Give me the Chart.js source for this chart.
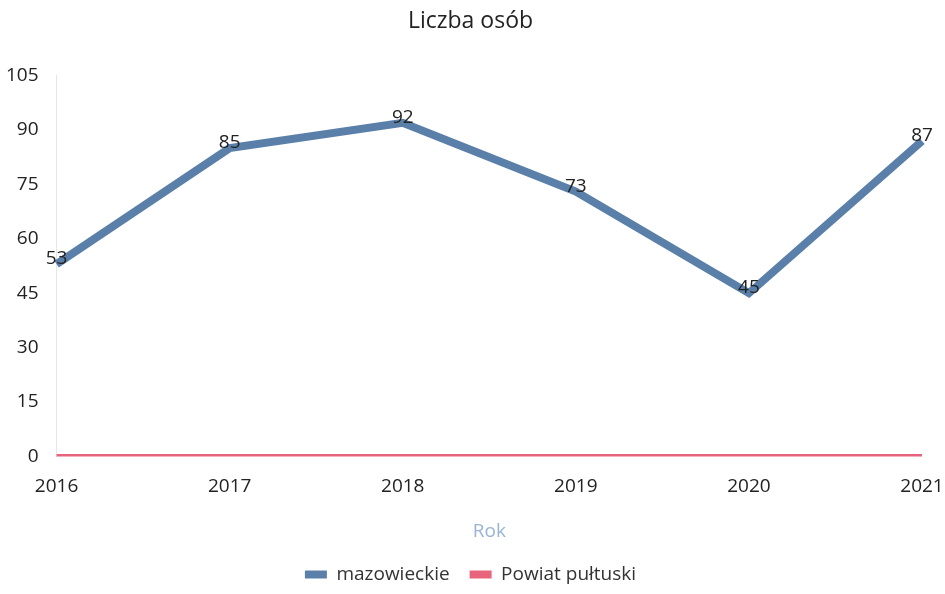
<!DOCTYPE html>
<html>
<head>
<meta charset="utf-8">
<script src="https://cdn.jsdelivr.net/npm/chart.js@4/dist/chart.umd.min.js"></script>
<style>
html,body{margin:0;padding:0;background:#fff;}
#wrap{width:945px;height:594px;position:relative;}
</style>
</head>
<body>
<div id="wrap"><canvas id="c"></canvas></div>
<script>
const years = ['2016','2017','2018','2019','2020','2021'];
const mazowieckie = [53, 85, 92, 73, 45, 87];
const powiatPultuski = [0, 0, 0, 0, 0, 0];
const seriesNames = ['mazowieckie', 'Powiat pułtuski'];

const FONT = "'Open Sans', 'DejaVu Sans', sans-serif";

const labelPlugin = {
  id: 'pointLabels',
  afterDatasetsDraw(chart) {
    const ctx = chart.ctx;
    const meta = chart.getDatasetMeta(0);
    const ds = chart.data.datasets[0];
    ctx.save();
    ctx.font = '19px ' + FONT;
    ctx.fillStyle = '#222';
    ctx.textAlign = 'center';
    ctx.textBaseline = 'bottom';
    meta.data.forEach((pt, i) => {
      ctx.fillText(String(ds.data[i]), pt.x, pt.y + 4);
    });
    ctx.restore();
  }
};

new Chart(document.getElementById('c'), {
  type: 'line',
  data: {
    labels: years,
    datasets: [
      {
        label: seriesNames[0],
        data: mazowieckie,
        borderColor: '#5a80aa',
        backgroundColor: '#5a80aa',
        borderWidth: 8,
        pointRadius: 0,
        tension: 0,
        order: 1
      },
      {
        label: seriesNames[1],
        data: powiatPultuski,
        borderColor: '#e8647a',
        backgroundColor: '#e8647a',
        borderWidth: 5,
        pointRadius: 0,
        tension: 0,
        order: 2
      }
    ]
  },
  options: {
    responsive: true,
    maintainAspectRatio: false,
    animation: false,
    layout: { padding: { left: -4, right: 0, top: 0, bottom: 0 } },
    plugins: {
      title: {
        display: true,
        text: 'Liczba osób',
        color: '#222',
        font: { family: FONT, size: 23, weight: 'normal' },
        padding: { top: 8, bottom: 40 }
      },
      legend: {
        position: 'bottom',
        labels: {
          color: '#333',
          font: { family: FONT, size: 19 },
          boxWidth: 22,
          boxHeight: 8,
          padding: 20,
          generateLabels(chart) {
            const items = Chart.defaults.plugins.legend.labels.generateLabels(chart);
            items.forEach(it => { it.lineWidth = 0; });
            return items;
          }
        }
      },
      tooltip: { enabled: false }
    },
    scales: {
      x: {
        offset: false,
        grid: { display: false },
        border: { display: false },
        afterFit(scale) { scale.paddingRight = 23; },
        ticks: { color: '#222', font: { family: FONT, size: 19 }, maxRotation: 0, padding: 11 },
        title: {
          display: true,
          text: 'Rok',
          color: '#9ab4d6',
          font: { family: FONT, size: 19 },
          padding: { top: 11, bottom: 2 }
        }
      },
      y: {
        min: 0,
        max: 105,
        grid: { display: false },
        border: { display: true, color: '#e6e6e6', dash: [3, 3] },
        ticks: { stepSize: 15, color: '#222', font: { family: FONT, size: 19 }, padding: 10 }
      }
    }
  },
  plugins: [labelPlugin]
});
</script>
</body>
</html>
